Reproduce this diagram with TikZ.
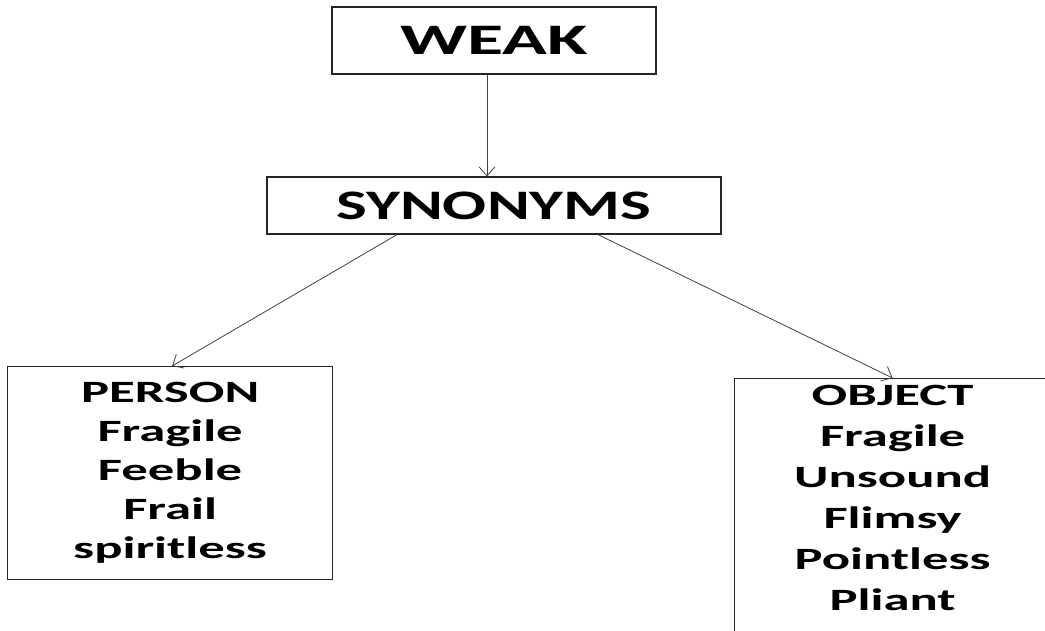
\documentclass[tikz,border=0pt]{standalone}
\usepackage{fontspec}
\setmainfont{Carlito}[FakeStretch=1.7]
\newfontfamily\synfont{Carlito}[FakeStretch=1.55]
\usetikzlibrary{arrows.meta}

\begin{document}
\begin{tikzpicture}[x=1pt, y=-1pt,
  boite/.style={draw=black!85, line width=1.2pt, rectangle, align=center},
  liste/.style={boite, anchor=north west, font=\bfseries\fontsize{31}{39}\selectfont},
  fleche/.style={draw=black!75, line width=0.8pt, -{Straight Barb[length=9pt, width=16pt]}}]

 \useasboundingbox (0,0) rectangle (1045,630);
 \clip (0,0) rectangle (1045,630);

 %%%%%%%%%% Boites du haut %%%%%%%%%%
 \node (weak) [boite, minimum width=324pt, minimum height=67pt, text height=28pt, text depth=0pt,
   font=\bfseries\fontsize{43.5}{45}\selectfont] at (494,40.5) {WEAK};
 \node (syn) [boite, minimum width=454pt, minimum height=57pt, text height=27pt, text depth=0pt,
   font=\synfont\bfseries\fontsize{42}{44}\selectfont] at (494,205.5) {SYNONYMS};

 %%%%%%%%%% Boites du bas %%%%%%%%%%
 \node (person) [liste, minimum width=325pt, minimum height=213pt]
   at (7,366) {PERSON\\Fragile\\Feeble\\Frail\\spiritless};
 \node (object) [liste, minimum width=316pt, inner ysep=7pt, text depth=40pt,
   font=\bfseries\fontsize{31}{41}\selectfont]
   at (734,378) {OBJECT\\Fragile\\Unsound\\Flimsy\\Pointless\\Pliant};

 %%%%%%%%%% Fleches %%%%%%%%%%
 \draw [fleche] ([xshift=-7pt]weak.south) -- ([xshift=-7pt]syn.north);
 \draw [fleche] ([xshift=-97pt]syn.south) -- ([xshift=2pt]person.north);
 \draw [fleche] ([xshift=104pt]syn.south) -- (object.north);

\end{tikzpicture}
\end{document}
